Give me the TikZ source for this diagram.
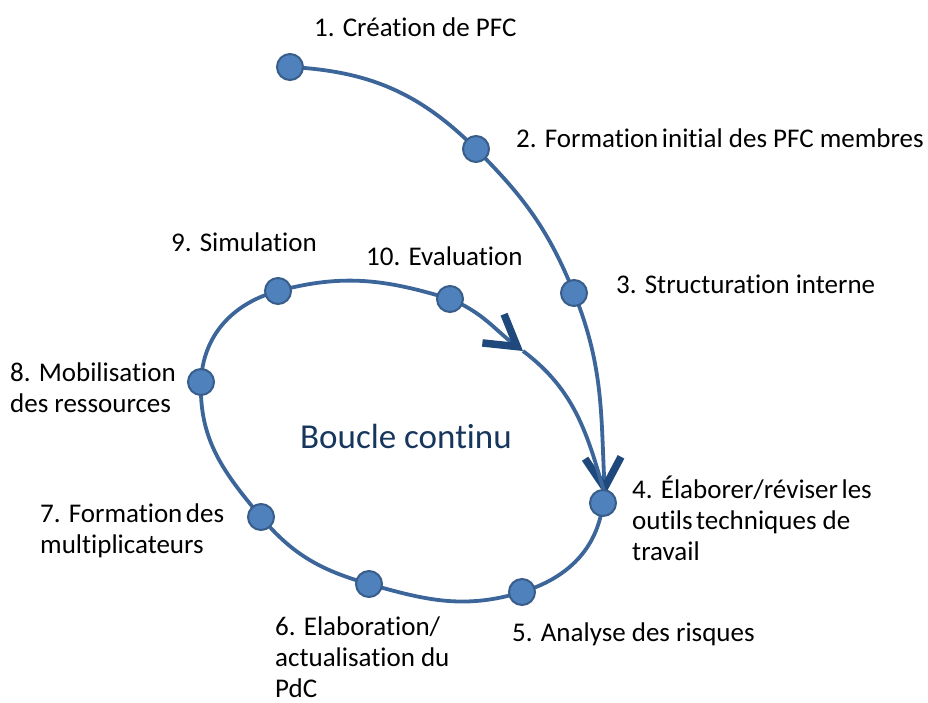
\documentclass[tikz,border=0pt]{standalone}
\usepackage{fontspec}
\setmainfont{Carlito}[Ligatures=NoCommon]
\usetikzlibrary{arrows.meta}

\definecolor{linkc}{HTML}{3C6699}
\definecolor{arrowc}{HTML}{1F497D}
\definecolor{dotfill}{HTML}{4F81BD}
\definecolor{dotline}{HTML}{385D8A}
\definecolor{titlec}{HTML}{17365D}

% narrow word gap
\newcommand\tsp{\hspace{3.5pt}}

\tikzset{
  link/.style={draw=linkc, line width=3.8pt},
  chevron/.tip={Straight Barb[length=30pt, width=36pt, line width=7.5pt, color=arrowc]},
  dot/.style={circle, fill=dotfill, draw=dotline, line width=2pt, minimum size=26pt, inner sep=0pt},
  lbl/.style={font={\fontsize{27}{31}\selectfont}, align=left, anchor=base west, inner sep=0pt},
}

\begin{document}
\begin{tikzpicture}[x=1pt, y=1pt]
  \useasboundingbox (0,0) rectangle (928,-702);

  % step positions
  \coordinate (p1) at (290,-67);
  \coordinate (p2) at (476,-149);
  \coordinate (p3) at (574,-293);
  \coordinate (p4) at (603,-503);
  \coordinate (p5) at (522,-592);
  \coordinate (p6) at (369,-584);
  \coordinate (p7) at (261,-517);
  \coordinate (p8) at (201,-382);
  \coordinate (p9) at (278,-291);
  \coordinate (p10) at (450,-299);
  \coordinate (mid) at (523,-351);
  \coordinate (tip) at (605,-495);

  % set-up path leading into the loop
  \draw[link, -{chevron}] (p1) to[out=-3, in=135] (p2)
        to[out=-45, in=112] (p3) to[out=-68, in=93] (tip);

  % the continuous loop
  \draw[link] (p4) to[out=-97, in=17] (p5)
        to[out=-163, in=-16] (p6)
        to[out=164, in=-50] (p7)
        to[out=130, in=-92] (p8)
        to[out=88, in=-165] (p9)
        to[out=15, in=163] (p10);
  \draw[link, -{chevron}] (p10) to[out=-22, in=143] (mid);
  \draw[link] (mid) to[out=-37, in=106] (tip);

  % step markers
  \foreach \i in {1,...,10} \node[dot] (d\i) at (p\i) {};

  % step labels (anchored on the baseline of the last line)
  \node[lbl] (l1) at (314,-36) {1. Création de PFC};
  \node[lbl] (l2) at (516,-147) {2. Formation\tsp initial des PFC membres};
  \node[lbl] (l3) at (616,-293) {3. Structuration interne};
  \node[lbl] (l4) at (632,-560) {4. Élaborer/réviser\tsp les\\outils\tsp techniques de\\travail};
  \node[lbl] (l5) at (512,-641) {5. Analyse des risques};
  \node[lbl] (l6) at (275,-697) {6. Elaboration/\\actualisation du\\PdC};
  \node[lbl] (l7) at (40,-553) {7. Formation\tsp des\\multiplicateurs};
  \node[lbl] (l8) at (10,-412) {8. Mobilisation\\des ressources};
  \node[lbl] (l9) at (171,-251) {9. Simulation};
  \node[lbl] (l10) at (366,-265) {10. Evaluation};

  \node[anchor=base west, inner sep=0pt, text=titlec,
        font={\fontsize{35}{40}\selectfont}] (title) at (300,-448) {Boucle continu};
\end{tikzpicture}
\end{document}
